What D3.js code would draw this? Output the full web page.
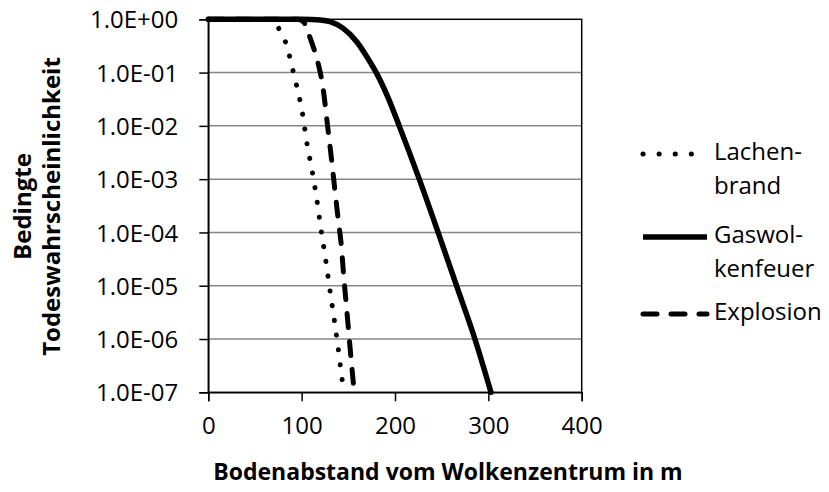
<!DOCTYPE html>
<html>
<head>
<meta charset="utf-8">
<script src="https://cdn.jsdelivr.net/npm/d3@7/dist/d3.min.js"></script>
<style>
  body { margin: 0; background: #fff; }
  text { font-family: "Open Sans", sans-serif; fill: #000; }
</style>
</head>
<body>
<svg id="chart" width="829" height="492"></svg>
<script>
// distance from cloud centre (m) and conditional death probability
const lachenX = [0, 60, 68, 72, 75.4, 79, 82.6, 86.9, 90.7, 94.4, 100.8, 105.7, 111.5, 116.5, 120.8, 125.8, 130.1, 134.7, 139, 143, 144.5];
const lachenP = [1, 1, 0.955, 0.851, 0.676, 0.501, 0.380, 0.209, 0.110, 0.0589, 0.0174, 0.00468, 0.00135, 3.89e-4, 1.12e-4, 3.02e-5, 8.71e-6, 2.45e-6, 7.08e-7, 1.95e-7, 1.26e-7];

const gasX = [0, 100, 110, 120, 130.4, 144.6, 159, 169.7, 184, 192.8, 204.5, 226, 246.2, 265.9, 285.6, 302.8];
const gasP = [1, 1, 0.995, 0.973, 0.902, 0.676, 0.380, 0.200, 0.0724, 0.0331, 0.01, 1e-3, 1e-4, 1e-5, 1e-6, 1e-7];

const explX = [0, 95, 100, 103, 105.1, 110.5, 116.5, 122.9, 128.3, 131.9, 135.4, 139, 142.6, 145.1, 148, 150.8, 153.7, 155.5];
const explP = [1, 1, 0.955, 0.851, 0.692, 0.380, 0.178, 0.0513, 0.00832, 0.00245, 6.76e-4, 1.86e-4, 5.37e-5, 1.48e-5, 4.07e-6, 1.12e-6, 3.02e-7, 1.41e-7];

const xTicks = [0, 100, 200, 300, 400];
const yTicks = [1, 1e-1, 1e-2, 1e-3, 1e-4, 1e-5, 1e-6, 1e-7];
const yTickLabels = ["1.0E+00", "1.0E-01", "1.0E-02", "1.0E-03", "1.0E-04", "1.0E-05", "1.0E-06", "1.0E-07"];

const seriesNames = ["Lachen-|brand", "Gaswol-|kenfeuer", "Explosion"];

const svg = d3.select("#chart");
const plotLeft = 208.3, plotRight = 581.7, plotTop = 19.3, plotBottom = 392.3;

const x = d3.scaleLinear().domain([0, 400]).range([plotLeft, plotRight]);
const y = d3.scaleLog().domain([1e-7, 1]).range([plotBottom, plotTop]);

// gridlines
svg.append("g")
  .selectAll("line")
  .data(yTicks.slice(1, -1))
  .enter()
  .append("line")
  .attr("x1", plotLeft).attr("x2", plotRight)
  .attr("y1", d => y(d)).attr("y2", d => y(d))
  .attr("stroke", "#878787")
  .attr("stroke-width", 1.5);

// plot border
svg.append("rect")
  .attr("x", plotLeft).attr("y", plotTop)
  .attr("width", plotRight - plotLeft).attr("height", plotBottom - plotTop)
  .attr("fill", "none")
  .attr("stroke", "#000")
  .attr("stroke-width", 1.5);

// axes
const yAxis = d3.axisLeft(y)
  .tickValues(yTicks)
  .tickFormat((d, i) => yTickLabels[i])
  .tickSize(9)
  .tickPadding(21);
const gy = svg.append("g").attr("transform", `translate(${plotLeft},0)`).call(yAxis);

const xAxis = d3.axisBottom(x)
  .tickValues(xTicks)
  .tickSize(9)
  .tickPadding(10);
const gx = svg.append("g").attr("transform", `translate(0,${plotBottom})`).call(xAxis);

[gy, gx].forEach(g => {
  g.select(".domain").attr("stroke", "#000").attr("stroke-width", 1.5);
  g.selectAll(".tick line").attr("stroke", "#000").attr("stroke-width", 1.5);
  g.selectAll(".tick text")
    .style("font-family", "'Open Sans', sans-serif")
    .style("font-size", "24px")
    .attr("fill", "#000");
});
gy.selectAll(".tick text").attr("dy", "0.36em");
gx.selectAll(".tick text").attr("dy", "0.95em");

// curves
const line = d3.line()
  .curve(d3.curveMonotoneX)
  .x(d => x(d[0]))
  .y(d => y(d[1]));

const styles = [
  { dash: "0.1,14.8", width: 5 },
  { dash: null, width: 5.5 },
  { dash: "14,14", width: 5 }
];
const series = [
  d3.zip(lachenX, lachenP),
  d3.zip(gasX, gasP),
  d3.zip(explX, explP)
];

series.forEach((s, i) => {
  svg.append("path")
    .attr("d", line(s))
    .attr("fill", "none")
    .attr("stroke", "#000")
    .attr("stroke-width", styles[i].width)
    .attr("stroke-linecap", "round")
    .attr("stroke-linejoin", "round")
    .attr("stroke-dasharray", styles[i].dash);
});

// legend
const legendY = [154, 237, 314];
seriesNames.forEach((name, i) => {
  svg.append("line")
    .attr("x1", 643).attr("x2", 707)
    .attr("y1", legendY[i]).attr("y2", legendY[i])
    .attr("stroke", "#000")
    .attr("stroke-width", styles[i].width)
    .attr("stroke-linecap", i == 1 ? "butt" : "round")
    .attr("stroke-dasharray", i == 0 ? "0.1,16" : styles[i].dash);
  const parts = name.split("|");
  const t = svg.append("text")
    .attr("x", 714)
    .attr("y", legendY[i] + 6)
    .style("font-size", "24px");
  parts.forEach((p, j) => {
    t.append("tspan").attr("x", 714).attr("dy", j == 0 ? 0 : 33.5).text(p);
  });
});

// axis titles
svg.append("text")
  .attr("x", 448)
  .attr("y", 480)
  .attr("text-anchor", "middle")
  .style("font-size", "23px")
  .style("font-weight", "bold")
  .text("Bodenabstand vom Wolkenzentrum in m");

svg.append("text")
  .attr("transform", "translate(31,206.5) rotate(-90)")
  .attr("text-anchor", "middle")
  .style("font-size", "24px")
  .style("font-weight", "bold")
  .text("Bedingte");

svg.append("text")
  .attr("transform", "translate(60,206.5) rotate(-90)")
  .attr("text-anchor", "middle")
  .style("font-size", "24px")
  .style("font-weight", "bold")
  .text("Todeswahrscheinlichkeit");
</script>
</body>
</html>
